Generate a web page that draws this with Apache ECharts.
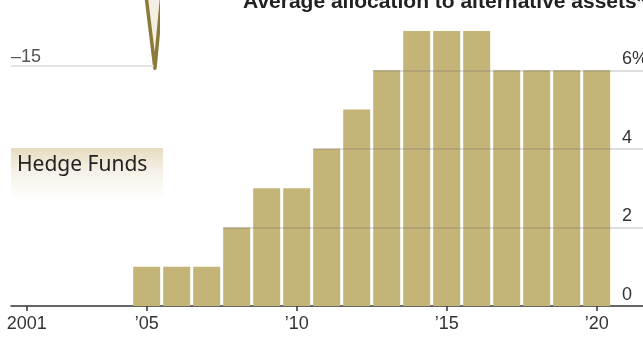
<!DOCTYPE html>
<html><head><meta charset="utf-8">
<script src="https://cdn.jsdelivr.net/npm/echarts@6/dist/echarts.min.js"></script>
<style>html,body{margin:0;padding:0;background:#fff}#c{width:643px;height:339px}</style>
</head><body><div id="c"></div>
<script>
// Data
const years = [2005,2006,2007,2008,2009,2010,2011,2012,2013,2014,2015,2016,2017,2018,2019,2020];
const allocation = [1,1,1,2,3,3,4,5,6,7,7,7,6,6,6,6];
const xTicks = [2001,2005,2010,2015,2020];
const xTickLabels = ['2001','\u201905','\u201910','\u201915','\u201920'];
const yTicks = [0,2,4,6];
const yTickLabels = ['0','2','4','6%'];
// fragment of neighbouring hedge-fund panel
const hfX = [9.21, 9.86, 10.36];
const hfY = [2, -15.5, 2];
const hfTicks = [-15];
const hfTickLabels = ['\u201315'];

const labelFont = "'Liberation Sans', Arial, sans-serif";
const xMin = 2000.477, xMax = 2021.543;
const barHalf = 0.45;

const gridLines = yTicks.filter(t => t > 0).map(t => {
  const i = allocation.findIndex(v => v >= t);
  return [{coord: [years[i] - barHalf, t]}, {coord: [xMax, t]}];
});

const chart = echarts.init(document.getElementById('c'), null, {renderer: 'canvas'});
chart.setOption({
  animation: false,
  grid: [
    {left: 11, right: 0, top: 31, bottom: 33, containLabel: false, outerBoundsMode: 'none'},
    {left: 11, top: 0, width: 146, height: 88, containLabel: false, outerBoundsMode: 'none'}
  ],
  xAxis: [
    {type: 'value', min: xMin, max: xMax, gridIndex: 0,
     axisLine: {show: true, lineStyle: {color: '#333', width: 1.5}},
     axisTick: {show: true, customValues: xTicks, length: 5, lineStyle: {color: '#333', width: 1.5}},
     axisLabel: {customValues: xTicks, formatter: v => xTickLabels[xTicks.indexOf(v)], color: '#333',
                 fontSize: 18, fontFamily: labelFont, margin: 9},
     splitLine: {show: false}},
    {type: 'value', min: 0, max: 10, gridIndex: 1, show: false}
  ],
  yAxis: [
    {type: 'value', min: 0, max: 7, gridIndex: 0, position: 'right',
     axisLine: {show: false}, axisTick: {show: false}, splitLine: {show: false},
     axisLabel: {customValues: yTicks, formatter: v => yTickLabels[yTicks.indexOf(v)], inside: true,
                 verticalAlign: 'bottom', align: 'left', margin: 21, padding: [0, 0, 2, 0],
                 color: '#333', fontSize: 18, fontFamily: labelFont}},
    {type: 'value', min: -20, max: 0, gridIndex: 1, position: 'left',
     axisLine: {show: false}, axisTick: {show: false}, splitLine: {show: false},
     axisLabel: {customValues: hfTicks, formatter: v => hfTickLabels[hfTicks.indexOf(v)], inside: true,
                 verticalAlign: 'bottom', align: 'left', margin: 0, padding: [0, 0, 0, 0],
                 color: '#555', fontSize: 18, fontFamily: labelFont}}
  ],
  series: [
    {type: 'bar', xAxisIndex: 0, yAxisIndex: 0, barWidth: 27,
     data: years.map((y, i) => [y, allocation[i]]),
     itemStyle: {color: '#c5b478'},
     markLine: {silent: true, symbol: 'none', label: {show: false},
                lineStyle: {color: 'rgba(110,110,110,0.3)', width: 1.5, type: 'solid'},
                data: gridLines}},
    {type: 'line', xAxisIndex: 1, yAxisIndex: 1, clip: false, symbol: 'none',
     data: hfX.map((x, i) => [x, hfY[i]]),
     lineStyle: {color: '#8b7b3b', width: 3.5, join: 'round', cap: 'round'},
     areaStyle: {color: '#f3f0e3', origin: 'end', opacity: 1},
     markLine: {silent: true, symbol: 'none', label: {show: false},
                lineStyle: {color: '#e4e4e4', width: 2, type: 'solid'},
                data: [[{coord: [0, hfTicks[0]]}, {coord: [hfX[1] - 0.1, hfTicks[0]]}]]}}
  ],
  graphic: [
    {type: 'rect', left: 11, top: 148, shape: {width: 152, height: 52}, z: -1,
     style: {fill: new echarts.graphic.LinearGradient(0, 0, 0, 1, [
       {offset: 0, color: '#e6dcbf'}, {offset: 0.45, color: '#f5f1e6'}, {offset: 1, color: '#ffffff'}])}},
    {type: 'text', left: 17, top: 155, z: 10,
     style: {text: 'Hedge Funds', fill: '#222', font: "21px 'Noto Sans', sans-serif"}},
    {type: 'text', left: 243, top: -8, z: 10,
     style: {text: 'Average allocation to alternative assets*', fill: '#222',
             font: "bold 21px 'Liberation Sans', sans-serif"}}
  ]
});
</script></body></html>
